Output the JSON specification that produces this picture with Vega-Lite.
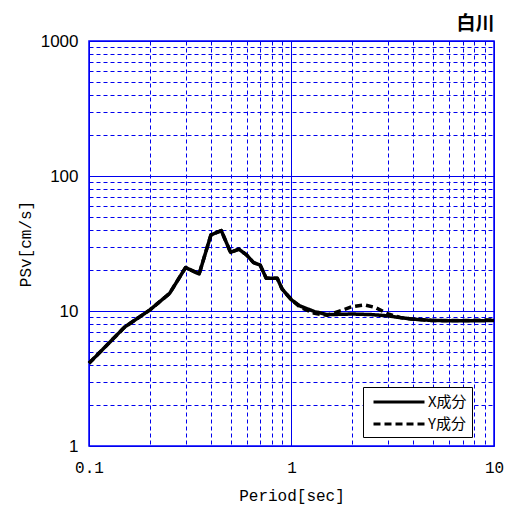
{
  "$schema": "https://vega.github.io/schema/vega-lite/v6.json",
  "width": 405,
  "height": 405,
  "autosize": {"type": "none"},
  "padding": {"left": 89, "top": 41, "right": 20, "bottom": 66},
  "background": "white",
  "title": {"text": "白川", "anchor": "end", "font": "Noto Sans CJK JP", "fontSize": 19, "fontWeight": "bold", "color": "black", "offset": -2, "dx": -9},
  "config": {
    "view": {"stroke": "#0000ff", "strokeWidth": 1.5},
    "axis": {"labelColor": "black", "titleColor": "black", "titleFontWeight": "normal"}
  },
  "data": {"values": [
    {"T": 0.1, "v": 4.1, "c": "X成分"},
    {"T": 0.15, "v": 7.6, "c": "X成分"},
    {"T": 0.2, "v": 10.2, "c": "X成分"},
    {"T": 0.25, "v": 13.5, "c": "X成分"},
    {"T": 0.3, "v": 21, "c": "X成分"},
    {"T": 0.35, "v": 18.8, "c": "X成分"},
    {"T": 0.4, "v": 36.6, "c": "X成分"},
    {"T": 0.45, "v": 39.4, "c": "X成分"},
    {"T": 0.5, "v": 27.2, "c": "X成分"},
    {"T": 0.55, "v": 28.7, "c": "X成分"},
    {"T": 0.6, "v": 26, "c": "X成分"},
    {"T": 0.65, "v": 22.8, "c": "X成分"},
    {"T": 0.7, "v": 21.9, "c": "X成分"},
    {"T": 0.75, "v": 17.5, "c": "X成分"},
    {"T": 0.85, "v": 17.5, "c": "X成分"},
    {"T": 0.9, "v": 14.5, "c": "X成分"},
    {"T": 1.0, "v": 12.1, "c": "X成分"},
    {"T": 1.1, "v": 10.9, "c": "X成分"},
    {"T": 1.3, "v": 9.9, "c": "X成分"},
    {"T": 1.5, "v": 9.4, "c": "X成分"},
    {"T": 2.0, "v": 9.5, "c": "X成分"},
    {"T": 2.5, "v": 9.4, "c": "X成分"},
    {"T": 3.0, "v": 9.2, "c": "X成分"},
    {"T": 3.5, "v": 8.9, "c": "X成分"},
    {"T": 4.0, "v": 8.7, "c": "X成分"},
    {"T": 5.0, "v": 8.5, "c": "X成分"},
    {"T": 7.0, "v": 8.45, "c": "X成分"},
    {"T": 10.0, "v": 8.5, "c": "X成分"},
    {"T": 0.1, "v": 4.1, "c": "Y成分"},
    {"T": 0.15, "v": 7.6, "c": "Y成分"},
    {"T": 0.2, "v": 10.2, "c": "Y成分"},
    {"T": 0.25, "v": 13.5, "c": "Y成分"},
    {"T": 0.3, "v": 21, "c": "Y成分"},
    {"T": 0.35, "v": 18.8, "c": "Y成分"},
    {"T": 0.4, "v": 36.6, "c": "Y成分"},
    {"T": 0.45, "v": 39.4, "c": "Y成分"},
    {"T": 0.5, "v": 27.2, "c": "Y成分"},
    {"T": 0.55, "v": 28.7, "c": "Y成分"},
    {"T": 0.6, "v": 26, "c": "Y成分"},
    {"T": 0.65, "v": 22.8, "c": "Y成分"},
    {"T": 0.7, "v": 21.9, "c": "Y成分"},
    {"T": 0.75, "v": 17.5, "c": "Y成分"},
    {"T": 0.85, "v": 17.5, "c": "Y成分"},
    {"T": 0.9, "v": 14.5, "c": "Y成分"},
    {"T": 1.0, "v": 12.1, "c": "Y成分"},
    {"T": 1.1, "v": 10.7, "c": "Y成分"},
    {"T": 1.3, "v": 9.6, "c": "Y成分"},
    {"T": 1.5, "v": 9.3, "c": "Y成分"},
    {"T": 1.8, "v": 10.2, "c": "Y成分"},
    {"T": 2.0, "v": 10.8, "c": "Y成分"},
    {"T": 2.3, "v": 11.1, "c": "Y成分"},
    {"T": 2.6, "v": 10.6, "c": "Y成分"},
    {"T": 3.0, "v": 9.5, "c": "Y成分"},
    {"T": 3.5, "v": 8.9, "c": "Y成分"},
    {"T": 4.0, "v": 8.7, "c": "Y成分"},
    {"T": 5.0, "v": 8.5, "c": "Y成分"},
    {"T": 7.0, "v": 8.5, "c": "Y成分"},
    {"T": 10.0, "v": 8.6, "c": "Y成分"}
  ]},
  "mark": {"type": "line", "color": "black", "strokeWidth": 3.5, "strokeJoin": "round"},
  "encoding": {
    "x": {
      "field": "T", "type": "quantitative",
      "scale": {"type": "log", "domain": [0.1, 10], "nice": false},
      "axis": {
        "title": "Period[sec]",
        "titleFont": "Liberation Mono", "titleFontSize": 16, "titlePadding": 12,
        "labelFont": "Liberation Mono", "labelFontSize": 16, "labelPadding": 13,
        "values": [0.1, 0.2, 0.3, 0.4, 0.5, 0.6, 0.7, 0.8, 0.9, 1, 2, 3, 4, 5, 6, 7, 8, 9, 10],
        "labelExpr": "datum.value == 0.1 ? '0.1' : datum.value == 1 ? '1' : datum.value == 10 ? '10' : ''",
        "labelFlush": false, "labelOverlap": false,
        "ticks": false, "domain": false,
        "grid": true, "gridColor": "#0000ee", "gridWidth": 1, "gridOpacity": 1,
        "gridDash": {"condition": {"test": "indexof([0.1, 1, 10], datum.value) >= 0", "value": []}, "value": [4, 3]}
      }
    },
    "y": {
      "field": "v", "type": "quantitative",
      "scale": {"type": "log", "domain": [1, 1000], "nice": false},
      "axis": {
        "title": "PSv[cm/s]",
        "titleFont": "Liberation Mono", "titleFontSize": 16, "titlePadding": 7,
        "labelFont": "Liberation Sans", "labelFontSize": 17, "labelPadding": 11,
        "values": [1, 2, 3, 4, 5, 6, 7, 8, 9, 10, 20, 30, 40, 50, 60, 70, 80, 90, 100, 200, 300, 400, 500, 600, 700, 800, 900, 1000],
        "labelExpr": "indexof([1, 10, 100, 1000], datum.value) >= 0 ? datum.value + '' : ''",
        "labelFlush": false, "labelOverlap": false,
        "ticks": false, "domain": false,
        "grid": true, "gridColor": "#0000ee", "gridWidth": 1, "gridOpacity": 1,
        "gridDash": {"condition": {"test": "indexof([1, 10, 100, 1000], datum.value) >= 0", "value": []}, "value": [4, 3]}
      }
    },
    "strokeDash": {
      "field": "c", "type": "nominal",
      "scale": {"domain": ["X成分", "Y成分"], "range": [[1, 0], [7, 4]]},
      "legend": {
        "title": null, "orient": "none", "legendX": 274, "legendY": 346,
        "fillColor": "white", "strokeColor": "black", "padding": 5,
        "symbolType": "M-3,0H3", "symbolSize": 289, "symbolStrokeWidth": 3, "symbolStrokeColor": "black",
        "symbolOffset": 21, "labelOffset": 19, "rowPadding": 4,
        "labelFont": "Noto Sans CJK JP", "labelFontSize": 15, "labelColor": "black"
      }
    }
  }
}
